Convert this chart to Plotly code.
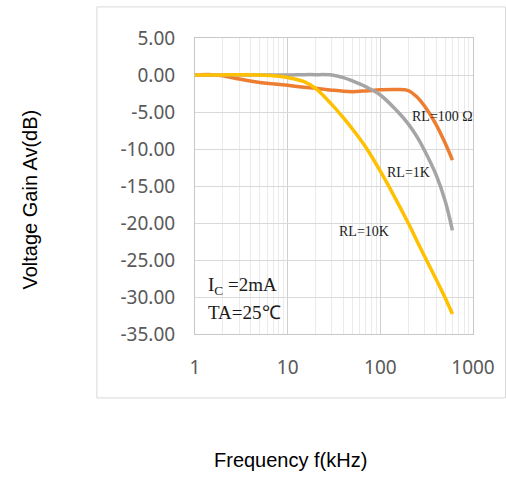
import plotly.graph_objects as go

# ---- data ----
freq_khz = [1, 1.5, 2, 3, 5, 7, 10, 15, 20, 30, 40, 50, 70, 100, 150, 200, 250, 300, 400, 500, 600]
gain_rl100 = [0.0, 0.05, -0.1, -0.55, -1.0, -1.2, -1.4, -1.65, -1.8, -2.05, -2.2, -2.25, -2.15, -2.0, -1.95, -2.1, -3.0, -4.2, -6.7, -9.2, -11.5]
gain_rl1k = [0.0, 0.0, 0.0, 0.0, 0.0, 0.0, 0.0, 0.05, 0.05, 0.0, -0.35, -0.8, -1.6, -2.7, -4.8, -6.6, -8.4, -10.2, -13.5, -17.0, -21.0]
gain_rl10k = [0.0, 0.0, 0.0, 0.05, 0.0, -0.1, -0.35, -0.9, -1.8, -4.0, -5.8, -7.3, -9.8, -13.0, -17.0, -20.0, -22.5, -24.5, -27.6, -30.1, -32.3]

series_names = ["RL=100 Ω", "RL=1K", "RL=10K"]
series_colors = ["#ED7D31", "#A5A5A5", "#FFC000"]

x_tick_vals = [1, 10, 100, 1000]
x_tick_text = ["1", "10", "100", "1000"]
y_tick_vals = [5, 0, -5, -10, -15, -20, -25, -30, -35]
y_tick_text = ["5.00", "0.00", "-5.00", "-10.00", "-15.00", "-20.00", "-25.00", "-30.00", "-35.00"]

fig = go.Figure()
for name, ys, col in zip(series_names, [gain_rl100, gain_rl1k, gain_rl10k], series_colors):
    fig.add_trace(go.Scatter(
        x=freq_khz, y=ys, mode="lines", name=name,
        line=dict(color=col, width=3.5, shape="spline", smoothing=1.0),
        hoverinfo="skip", showlegend=False,
    ))

tick_font = dict(family="Noto Sans", size=19, color="#595959")

fig.update_xaxes(
    type="log", range=[0, 3],
    tickvals=x_tick_vals, ticktext=x_tick_text,
    showgrid=True, gridcolor="#d0d0d0", gridwidth=1,
    minor=dict(dtick="D1", showgrid=True, gridcolor="#ebebeb", gridwidth=1, ticks=""),
    showline=True, linecolor="#c8c8c8", linewidth=1, mirror=True,
    ticks="", tickfont=tick_font, ticklabelstandoff=16,
    zeroline=False,
)
fig.update_yaxes(
    range=[-35, 5],
    tickvals=y_tick_vals, ticktext=y_tick_text,
    showgrid=True, gridcolor="#d9d9d9", gridwidth=1,
    showline=True, linecolor="#c8c8c8", linewidth=1, mirror=True,
    ticks="", tickfont=tick_font, ticklabelstandoff=15,
    zeroline=False,
)

label_font = dict(family="Liberation Serif", size=14, color="#1a1a1a")
fig.add_annotation(x=2.667, y=-5.64, xref="x", yref="y", text="RL=100 Ω",
                   showarrow=False, font=label_font)
fig.add_annotation(x=2.303, y=-13.24, xref="x", yref="y", text="RL=1K",
                   showarrow=False, font=label_font)
fig.add_annotation(x=1.827, y=-21.2, xref="x", yref="y", text="RL=10K",
                   showarrow=False, font=label_font)

cond_font = dict(family="Liberation Serif", size=19, color="#1a1a1a")
fig.add_annotation(x=0.12, y=-28.5, xref="x", yref="y", text="I<sub>C</sub> =2mA",
                   showarrow=False, xanchor="left", yanchor="middle", font=cond_font)
fig.add_annotation(x=0.12, y=-32.1, xref="x", yref="y", text="TA=25℃",
                   showarrow=False, xanchor="left", yanchor="middle", font=cond_font)

title_font = dict(family="Liberation Sans", size=20, color="#000000")
fig.add_annotation(x=-0.595, y=0.453, xref="paper", yref="paper",
                   text="Voltage Gain Av(dB)", textangle=-90,
                   xanchor="center", yanchor="middle",
                   showarrow=False, font=title_font)
fig.add_annotation(x=0.342, y=-0.426, xref="paper", yref="paper",
                   text="Frequency f(kHz)", xanchor="center", yanchor="middle",
                   showarrow=False, font=title_font)

# outer chart frame
fig.add_shape(type="rect", xref="paper", yref="paper",
              x0=-0.353, x1=1.117, y0=-0.216, y1=1.105,
              line=dict(color="#d9d9d9", width=1), layer="below")

fig.update_layout(
    width=506, height=477,
    margin=dict(l=195, r=33, t=38, b=143),
    paper_bgcolor="white", plot_bgcolor="white",
    showlegend=False,
)

fig.write_html("out.html")
